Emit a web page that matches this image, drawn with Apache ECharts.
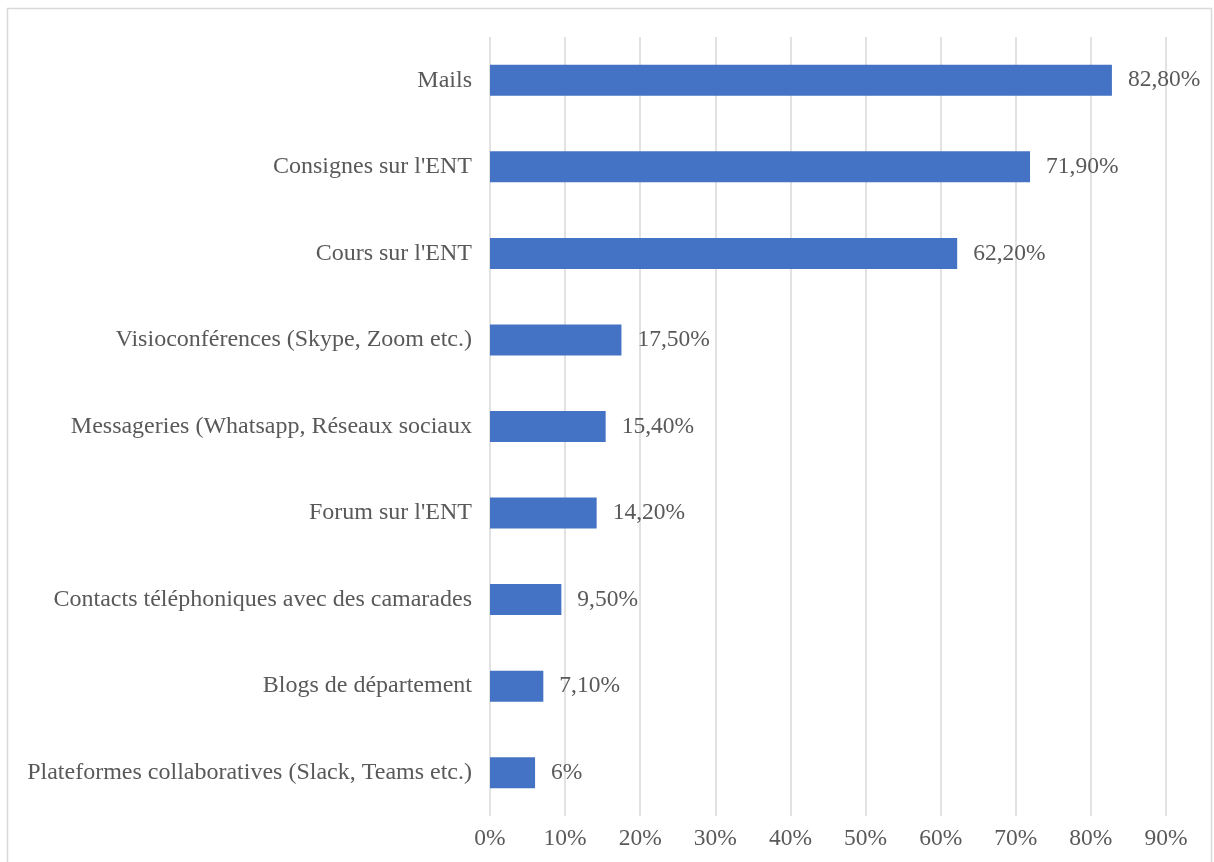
<!DOCTYPE html>
<html>
<head>
<meta charset="utf-8">
<script src="https://cdn.jsdelivr.net/npm/echarts@6/dist/echarts.min.js"></script>
<style>
    html, body { margin: 0; padding: 0; background: #fff; }
    #chart { width: 1214px; height: 862px; }
</style>
</head>
<body>
<div id="chart"></div>
<script>
// categories from bottom to top, as the axis draws them
const categories = [
    'Plateformes collaboratives (Slack, Teams etc.)',
    'Blogs de département',
    'Contacts téléphoniques avec des camarades',
    "Forum sur l'ENT",
    'Messageries (Whatsapp, Réseaux sociaux',
    'Visioconférences (Skype, Zoom etc.)',
    "Cours sur l'ENT",
    "Consignes sur l'ENT",
    'Mails'
];
const values = [6, 7.1, 9.5, 14.2, 15.4, 17.5, 62.2, 71.9, 82.8];
const valueLabels = ['6%', '7,10%', '9,50%', '14,20%', '15,40%', '17,50%', '62,20%', '71,90%', '82,80%'];
const tickLabels = ['0%', '10%', '20%', '30%', '40%', '50%', '60%', '70%', '80%', '90%'];

const font = '"Liberation Serif", "Times New Roman", serif';
const textColor = '#595959';

const chart = echarts.init(document.getElementById('chart'));

chart.setOption({
    animation: false,
    graphic: [{
        type: 'rect',
        shape: { x: 7.5, y: 8.5, width: 1204, height: 870 },
        style: { fill: 'none', stroke: '#d9d9d9', lineWidth: 1.5 },
        silent: true
    }],
    grid: { left: 490, right: 48, top: 37, bottom: 46, containLabel: false },
    xAxis: {
        type: 'value',
        min: 0,
        max: 90,
        interval: 10,
        axisLine: { show: false },
        axisTick: { show: false },
        splitLine: { lineStyle: { color: '#d9d9d9', width: 1.5 } },
        axisLabel: {
            margin: 11,
            color: textColor,
            fontFamily: font,
            fontSize: 23.5,
            formatter: (v) => tickLabels[Math.round(v / 10)]
        }
    },
    yAxis: {
        type: 'category',
        data: categories,
        axisLine: { show: false },
        axisTick: { show: false },
        axisLabel: {
            margin: 18,
            color: textColor,
            fontFamily: font,
            fontSize: 24
        }
    },
    series: [{
        type: 'bar',
        data: values,
        barWidth: 31,
        itemStyle: { color: '#4472c4' },
        label: {
            show: true,
            position: 'right',
            distance: 16,
            color: textColor,
            fontFamily: font,
            fontSize: 23.5,
            formatter: (p) => valueLabels[p.dataIndex]
        }
    }]
});
</script>
</body>
</html>
